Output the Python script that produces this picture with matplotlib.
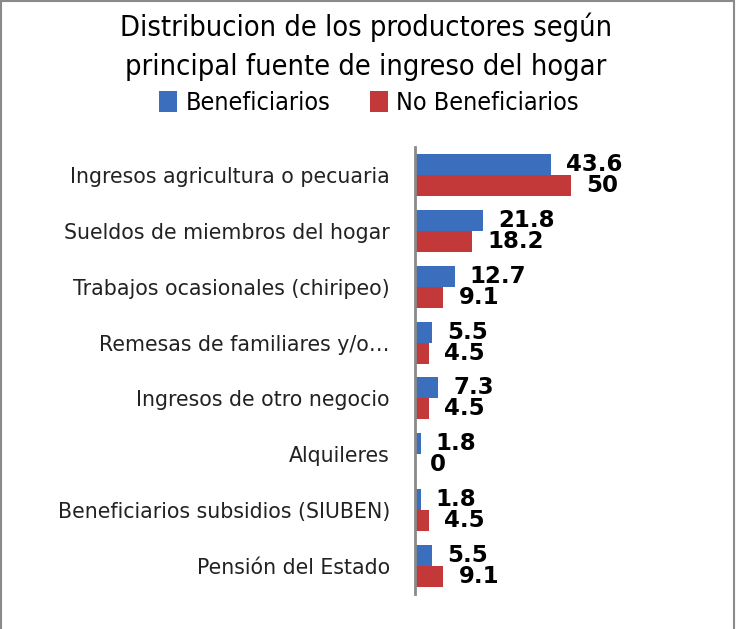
import matplotlib.pyplot as plt
import numpy as np
from matplotlib.patches import Rectangle

# Data
categorias = ['Ingresos agricultura o pecuaria',
              'Sueldos de miembros del hogar',
              'Trabajos ocasionales (chiripeo)',
              'Remesas de familiares y/o…',
              'Ingresos de otro negocio',
              'Alquileres',
              'Beneficiarios subsidios (SIUBEN)',
              'Pensión del Estado']
beneficiarios = [43.6, 21.8, 12.7, 5.5, 7.3, 1.8, 1.8, 5.5]
no_beneficiarios = [50, 18.2, 9.1, 4.5, 4.5, 0, 4.5, 9.1]
etiq_benef = ['43.6', '21.8', '12.7', '5.5', '7.3', '1.8', '1.8', '5.5']
etiq_nobenef = ['50', '18.2', '9.1', '4.5', '4.5', '0', '4.5', '9.1']

azul = '#3b6fbe'
rojo = '#c3393a'

fig = plt.figure(figsize=(7.38, 6.29), dpi=100)
ax = fig.add_axes([0.5623, 0.0556, 0.2534, 0.7107])

y = np.arange(len(categorias))
h = 0.375
ax.barh(y - h / 2, beneficiarios, height=h, color=azul, label='Beneficiarios')
ax.barh(y + h / 2, no_beneficiarios, height=h, color=rojo, label='No Beneficiarios')

for i in range(len(categorias)):
    ax.annotate(etiq_benef[i], (beneficiarios[i], y[i] - h / 2), xytext=(11, 0),
                textcoords='offset points', va='center', ha='left',
                fontsize=16.5, fontweight='bold', annotation_clip=False)
    ax.annotate(etiq_nobenef[i], (no_beneficiarios[i], y[i] + h / 2), xytext=(11, 0),
                textcoords='offset points', va='center', ha='left',
                fontsize=16.5, fontweight='bold', annotation_clip=False)

ax.set_xlim(0, 60)
ax.set_ylim(len(categorias) - 0.5, -0.5)
ax.set_yticks(y)
ax.set_yticklabels(categorias, fontsize=14.8, color='#222222')
ax.tick_params(axis='y', length=0, pad=18)
ax.set_xticks([])
for s in ['top', 'right', 'bottom']:
    ax.spines[s].set_visible(False)
ax.spines['left'].set_color('#8a8a8a')
ax.spines['left'].set_linewidth(2)

fig.text(0.496, 0.957, 'Distribucion de los productores según',
         ha='center', va='center', fontsize=20.8, fontstretch='condensed')
fig.text(0.496, 0.893, 'principal fuente de ingreso del hogar',
         ha='center', va='center', fontsize=20.8, fontstretch='condensed')

fig.legend(loc='center', bbox_to_anchor=(0.50, 0.836), ncol=2, frameon=False,
           handlelength=0.7, handleheight=0.9, handletextpad=0.35,
           columnspacing=1.6, prop={'size': 18, 'stretch': 'condensed'})

# marco gris del grafico
fig.patches.append(Rectangle((0.001, -0.01), 0.994, 1.008, transform=fig.transFigure,
                             fill=False, edgecolor='#8a8a8a', linewidth=1.5))

fig.savefig('out.png', dpi=100)
